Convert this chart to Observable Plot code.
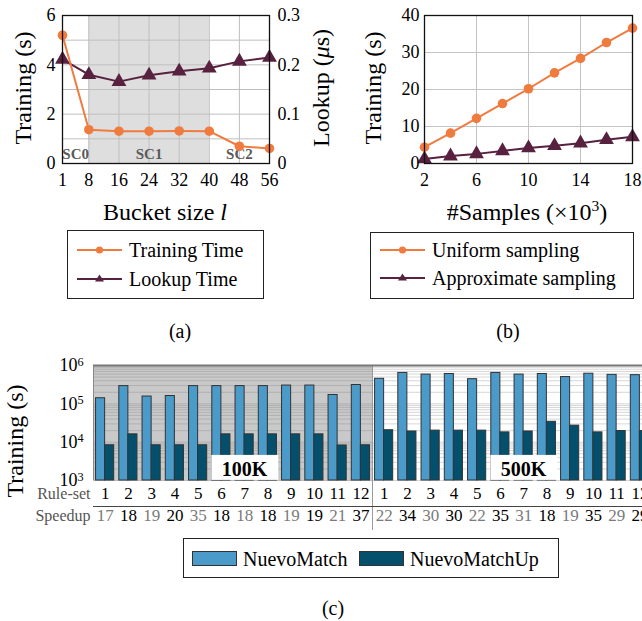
<!DOCTYPE html>
<html><head><meta charset="utf-8">
<script src="https://cdn.jsdelivr.net/npm/d3@7"></script>
<script src="https://cdn.jsdelivr.net/npm/@observablehq/plot@0.6"></script>
<style>
html,body{margin:0;padding:0;background:#fff;overflow:hidden;}
#root{position:relative;width:642px;height:621px;overflow:hidden;font-family:"Liberation Serif","Times New Roman",serif;color:#000;background:#fff;}
.abs{position:absolute;white-space:nowrap;line-height:1;}
.legend{position:absolute;border:1.3px solid #222;box-sizing:border-box;background:#fff;}
.litem{position:absolute;font-size:20px;line-height:20px;height:20px;white-space:nowrap;}
#root svg.chart{position:absolute;max-width:none;background:transparent;font-family:"Liberation Serif","Times New Roman",serif;}
</style></head><body><div id="root"></div><script>
// ---------- data: panel (a)
const bucketSizes = [1, 8, 16, 24, 32, 40, 48, 56];
const trainingTimeA = [5.20, 1.37, 1.31, 1.31, 1.32, 1.31, 0.70, 0.61];
const lookupTimeA = [0.211, 0.180, 0.166, 0.179, 0.187, 0.193, 0.207, 0.215];
const trainingTicksA = [0, 2, 4, 6];
const trainingGridA = [0, 1, 2, 3, 4, 5, 6];
const lookupTicksA = [0, 0.1, 0.2, 0.3];
const scNames = ["SC0", "SC1", "SC2"];
const scBounds = [1, 8, 40, 56];
// ---------- data: panel (b)
const samplesK = [2, 4, 6, 8, 10, 12, 14, 16, 18];
const uniformTraining = [4.4, 8.2, 12.2, 16.2, 20.2, 24.5, 28.4, 32.7, 36.6];
const approxTraining = [1.2, 2.0, 2.6, 3.4, 4.2, 4.8, 5.5, 6.4, 7.2];
const samplesTicks = [2, 6, 10, 14, 18];
const trainingTicksB = [0, 10, 20, 30, 40];
// ---------- data: panel (c)
const sections = ["100K", "500K"];
const ruleSets = [1, 2, 3, 4, 5, 6, 7, 8, 9, 10, 11, 12];
const nuevoMatch100K = [1.4e5, 2.9e5, 1.55e5, 1.6e5, 2.9e5, 2.9e5, 2.9e5, 2.9e5, 3.0e5, 3.0e5, 1.7e5, 3.1e5];
const nuevoMatchUp100K = [8.3e3, 1.6e4, 8.3e3, 8.3e3, 8.3e3, 1.6e4, 1.6e4, 1.6e4, 1.6e4, 1.6e4, 8.2e3, 8.3e3];
const nuevoMatch500K = [4.5e5, 6.4e5, 5.8e5, 6.0e5, 4.4e5, 6.4e5, 5.8e5, 6.0e5, 5.0e5, 6.1e5, 5.7e5, 5.6e5];
const nuevoMatchUp500K = [2.05e4, 1.9e4, 2.0e4, 2.0e4, 2.0e4, 1.8e4, 1.9e4, 3.4e4, 2.7e4, 1.8e4, 1.95e4, 1.95e4];
const speedup100K = [17, 18, 19, 20, 35, 18, 18, 18, 19, 19, 21, 37];
const speedup500K = [22, 34, 30, 30, 22, 35, 31, 18, 19, 35, 29, 29];
const trainingTicksC = [1e3, 1e4, 1e5, 1e6];
const sectionLabelRuleSet = 7;

const orange = "#f07b3f", plum = "#57213f";
const nmColor = "#4a9bc9", nmuColor = "#04506c";
const STYLE = "font-family: 'Liberation Serif', 'Times New Roman', serif; background: transparent;";
const root = document.getElementById("root");

function addSvg(svg, left, top) {
  svg.classList.add("chart");
  svg.style.position = "absolute";
  svg.style.left = left + "px";
  svg.style.top = top + "px";
  svg.style.maxWidth = "none";
  root.appendChild(svg);
  return svg;
}
function label(html, cx, cy, size, rotate) {
  const d = document.createElement("div");
  d.className = "abs";
  d.innerHTML = html;
  d.style.left = cx + "px"; d.style.top = cy + "px"; d.style.fontSize = size + "px";
  d.style.transform = rotate ? "translate(-50%,-50%) rotate(-90deg)" : "translate(-50%,-50%)";
  root.appendChild(d);
}

// ---------- panel (a)
const lookupScale = 20;
const aRows = bucketSizes.map((b, i) => ({b, training: trainingTimeA[i], lookup: lookupTimeA[i] * lookupScale}));
const scRows = scNames.map((name, i) => ({name, x1: scBounds[i], x2: scBounds[i + 1]}));
const plotA = Plot.plot({
  width: 340, height: 195, marginLeft: 62, marginRight: 71, marginTop: 15, marginBottom: 32,
  style: STYLE,
  x: {domain: [1, 56]}, y: {domain: [0, 6]},
  marks: [
    Plot.rect(scRows.filter(d => d.name === "SC1"), {x1: "x1", x2: "x2", y1: 0, y2: 6, fill: "#dedede"}),
    Plot.gridY(trainingGridA, {stroke: "#bfbfbf", strokeOpacity: 1}),
    Plot.gridX(bucketSizes, {stroke: "#bfbfbf", strokeOpacity: 1}),
    Plot.text(scRows, {x: d => (d.x1 + d.x2) / 2, y: 0, text: "name", dy: -9, fontWeight: "bold", fontSize: 15, fill: "#5a5a5a"}),
    Plot.line(aRows, {x: "b", y: "lookup", stroke: plum, strokeWidth: 2}),
    Plot.dot(aRows, {x: "b", y: "lookup", symbol: "triangle", r: 5.5, fill: plum}),
    Plot.line(aRows, {x: "b", y: "training", stroke: orange, strokeWidth: 2}),
    Plot.dot(aRows, {x: "b", y: "training", r: 4.8, fill: orange}),
    Plot.frame({stroke: "#111", strokeWidth: 1.3}),
    Plot.axisX({ticks: bucketSizes, tickFormat: d => String(d), tickSize: 0, tickPadding: 10, fontSize: 18, label: null}),
    Plot.axisY({ticks: trainingTicksA, tickFormat: d => String(d), tickSize: 0, tickPadding: 7, fontSize: 18, label: null}),
    Plot.axisY({anchor: "right", ticks: lookupTicksA.map(t => t * lookupScale), tickFormat: d => String(+(d / lookupScale).toFixed(2)), tickSize: 0, tickPadding: 8, fontSize: 18, label: null})
  ]
});
addSvg(plotA, 0, 0);

// ---------- panel (b)
const bRows = samplesK.map((s, i) => ({s, u: uniformTraining[i], a: approxTraining[i]}));
const plotB = Plot.plot({
  width: 302, height: 195, marginLeft: 84, marginRight: 10, marginTop: 15, marginBottom: 32,
  style: STYLE,
  x: {domain: [2, 18]}, y: {domain: [0, 40]},
  marks: [
    Plot.gridX(samplesTicks, {stroke: "#c4c4c4", strokeOpacity: 1}),
    Plot.gridY(trainingTicksB, {stroke: "#c4c4c4", strokeOpacity: 1}),
    Plot.line(bRows, {x: "s", y: "a", stroke: plum, strokeWidth: 2}),
    Plot.dot(bRows, {x: "s", y: "a", symbol: "triangle", r: 5.5, fill: plum}),
    Plot.line(bRows, {x: "s", y: "u", stroke: orange, strokeWidth: 2}),
    Plot.dot(bRows, {x: "s", y: "u", r: 4.8, fill: orange}),
    Plot.frame({stroke: "#111", strokeWidth: 1.3}),
    Plot.axisX({ticks: samplesTicks, tickFormat: d => String(d), tickSize: 0, tickPadding: 10, fontSize: 18, label: null}),
    Plot.axisY({ticks: trainingTicksB, tickFormat: d => String(d), tickSize: 0, tickPadding: 5, fontSize: 18, label: null})
  ]
});
addSvg(plotB, 340, 0);

// ---------- panel (c)
const cRows = sections.flatMap((sec, k) => ruleSets.map((rs, j) => ({
  i: k * ruleSets.length + j, sec, rs,
  nm: (k ? nuevoMatch500K : nuevoMatch100K)[j],
  nmu: (k ? nuevoMatchUp500K : nuevoMatchUp100K)[j],
  sp: (k ? speedup500K : speedup100K)[j]
})));
const nG = ruleSets.length;
const secRows = sections.map((sec, k) => ({sec, k, x1: k * nG, x2: (k + 1) * nG, at: k * nG + (sectionLabelRuleSet - 1) + 0.5}));
const logGrid = d3.scaleLog().domain([1e3, 1e6]).ticks();
const gridRows = secRows.flatMap(s => logGrid.map(v => ({v, k: s.k, x1: s.x1, x2: s.x2})));
const plotC = Plot.plot({
  width: 660, height: 200, marginLeft: 93, marginRight: 9, marginTop: 25, marginBottom: 60,
  style: STYLE,
  x: {domain: [0, 2 * nG], axis: null},
  y: {type: "log", domain: [1e3, 1e6]},
  marks: [
    Plot.rect(secRows.filter(d => d.k === 0), {x1: "x1", x2: "x2", y1: 1e3, y2: 1e6, fill: "#c9c9c9"}),
    Plot.ruleY(gridRows.filter(d => d.k === 0), {y: "v", x1: "x1", x2: "x2", stroke: "#a9a9a9", strokeWidth: 0.8}),
    Plot.ruleY(gridRows.filter(d => d.k === 1), {y: "v", x1: "x1", x2: "x2", stroke: "#cccccc", strokeWidth: 0.8}),
    Plot.ruleX([nG], {stroke: "#9a9a9a"}),
    Plot.ruleX([nG], {stroke: "#9a9a9a", dy: 50}),
    Plot.ruleX([0], {stroke: "#8a8a8a"}),
    Plot.ruleY([1e6], {stroke: "#777", strokeWidth: 2}),
    Plot.rect(cRows, {x1: d => d.i + 0.11, x2: d => d.i + 0.5, y1: 1e3, y2: "nm", fill: nmColor, stroke: "#333", strokeWidth: 1}),
    Plot.rect(cRows, {x1: d => d.i + 0.5, x2: d => d.i + 0.89, y1: 1e3, y2: "nmu", fill: nmuColor, stroke: "#333", strokeWidth: 1}),
    Plot.text(secRows, {x: "at", y: 1e3, text: "sec", dy: -11, fontWeight: "bold", fontSize: 20, fill: "#000"}),
    Plot.text(cRows, {x: d => d.i + 0.5, frameAnchor: "bottom", text: "rs", dy: 18, fontSize: 17, fill: "#000"}),
    Plot.text(cRows.filter(d => d.i % 2 === 0), {x: d => d.i + 0.5, frameAnchor: "bottom", text: "sp", dy: 40, fontSize: 17, fill: "#7a7a7a"}),
    Plot.text(cRows.filter(d => d.i % 2 === 1), {x: d => d.i + 0.5, frameAnchor: "bottom", text: "sp", dy: 40, fontSize: 17, fill: "#000"}),
    Plot.ruleY([1e3], {dy: 26, stroke: "#444"}),
    Plot.text(["Rule-set"], {frameAnchor: "bottom-left", text: d => d, textAnchor: "end", dx: -3, dy: 18, fill: "#555", fontSize: 16}),
    Plot.text(["Speedup"], {frameAnchor: "bottom-left", text: d => d, textAnchor: "end", dx: -3, dy: 40, fill: "#555", fontSize: 16}),
    Plot.axisY({ticks: trainingTicksC, tickFormat: d => "10^" + Math.round(Math.log10(d)), tickSize: 0, tickPadding: 10, fontSize: 18, label: null})
  ]
});
addSvg(plotC, 0, 340);

// superscripts for the log axis
plotC.querySelectorAll("text").forEach(t => {
  const s = t.textContent;
  if (/^10\^\d$/.test(s)) {
    const e = s.split("^")[1];
    t.textContent = "10";
    const ts = document.createElementNS("http://www.w3.org/2000/svg", "tspan");
    ts.setAttribute("dy", "-0.45em");
    ts.setAttribute("font-size", "0.68em");
    ts.textContent = e;
    t.appendChild(ts);
  }
});
// white boxes behind the section labels
plotC.querySelectorAll("text").forEach(t => {
  if (!sections.includes(t.textContent)) return;
  const b = t.getBBox();
  const r = document.createElementNS("http://www.w3.org/2000/svg", "rect");
  r.setAttribute("x", b.x - 10.5);
  r.setAttribute("y", b.y - 3);
  r.setAttribute("width", b.width + 21);
  r.setAttribute("height", b.height + 3);
  r.setAttribute("fill", "#fff");
  if (t.getAttribute("transform")) r.setAttribute("transform", t.getAttribute("transform"));
  t.parentNode.insertBefore(r, t);
});

// ---------- axis titles & captions
label("Training (s)", 23, 88, 24, true);
label("Lookup (<i>μ</i>s)", 321, 88, 24, true);
label("Bucket size <i>l</i>", 165, 212, 24, false);
label("Training (s)", 373, 88, 24, true);
label("#Samples (×10<sup style='font-size:0.65em;vertical-align:0.55em;line-height:0'>3</sup>)", 527, 212, 24, false);
label("Training (s)", 15, 441, 24, true);
label("(a)", 180, 331, 20, false);
label("(b)", 508, 331, 20, false);
label("(c)", 333, 608, 20, false);

// ---------- legends
function lineKey(color, symbol) {
  const m = symbol === "circle"
    ? `<circle cx="22.5" cy="7" r="3.6" fill="${color}"/>`
    : `<path d="M22.5,2.6 L27,9.6 L18,9.6 Z" fill="${color}"/>`;
  return `<svg width="45" height="14" style="display:block"><line x1="0" y1="7" x2="45" y2="7" stroke="${color}" stroke-width="2.2"/>${m}</svg>`;
}
function legend(left, top, w, h, items) {
  const box = document.createElement("div");
  box.className = "legend";
  Object.assign(box.style, {left: left + "px", top: top + "px", width: w + "px", height: h + "px"});
  items.forEach(it => {
    const k = document.createElement("div");
    k.style.position = "absolute";
    k.style.left = it.kx + "px"; k.style.top = (it.cy - it.kh / 2) + "px";
    k.innerHTML = it.key;
    box.appendChild(k);
    const tx = document.createElement("div");
    tx.className = "litem";
    tx.style.left = it.tx + "px"; tx.style.top = (it.cy - 10) + "px";
    tx.textContent = it.text;
    box.appendChild(tx);
  });
  root.appendChild(box);
}
legend(67, 230, 197, 69, [
  {text: "Training Time", key: lineKey(orange, "circle"), kx: 9, kh: 14, tx: 61, cy: 19},
  {text: "Lookup Time", key: lineKey(plum, "triangle"), kx: 9, kh: 14, tx: 61, cy: 47.5}
]);
legend(370, 232, 264, 67, [
  {text: "Uniform sampling", key: lineKey(orange, "circle"), kx: 9, kh: 14, tx: 61, cy: 17},
  {text: "Approximate sampling", key: lineKey(plum, "triangle"), kx: 9, kh: 14, tx: 61, cy: 45}
]);
const sw = c => `<div style="width:45px;height:15px;background:${c};border:1px solid #333;box-sizing:border-box"></div>`;
legend(183, 538, 376, 40, [
  {text: "NuevoMatch", key: sw(nmColor), kx: 8, kh: 15, tx: 59, cy: 19.5},
  {text: "NuevoMatchUp", key: sw(nmuColor), kx: 175, kh: 15, tx: 226, cy: 19.5}
]);
</script></body></html>
